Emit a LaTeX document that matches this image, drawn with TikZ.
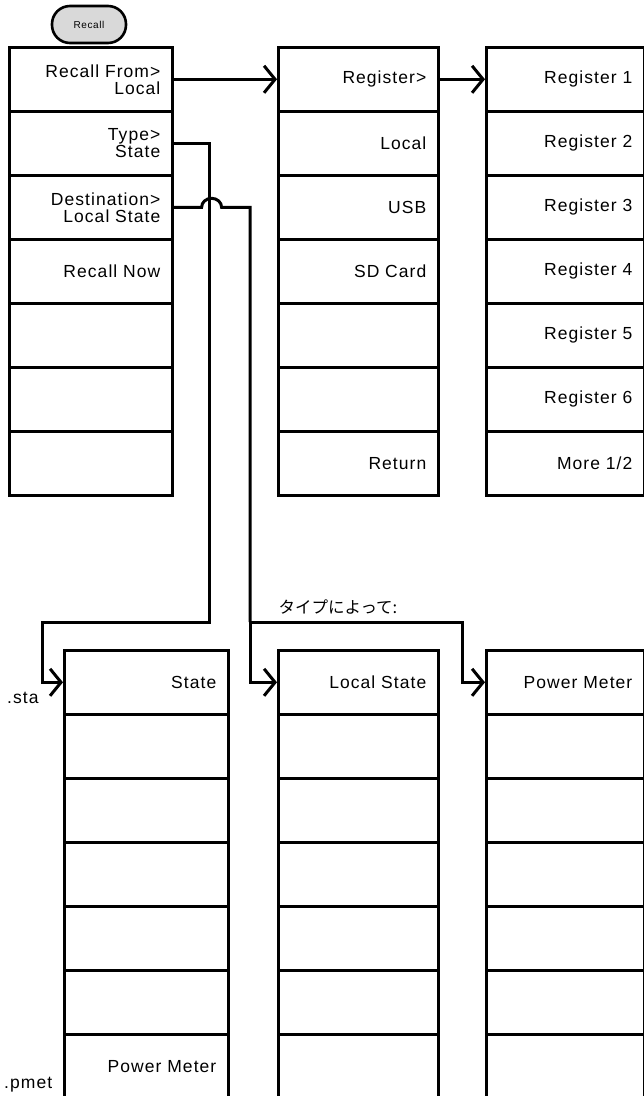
\documentclass[tikz,border=0pt]{standalone}
\usepackage{fontspec}
\setmainfont[LetterSpace=6]{Liberation Sans}
\newfontfamily\cjk{Noto Sans CJK JP}
\usetikzlibrary{arrows.meta}
\newcommand\menufont{\fontsize{17.5}{17}\selectfont}

\tikzset{
  keybox/.style={draw, line width=2.6pt, inner xsep=12pt, inner ysep=0pt,
    text width=#1, minimum height=64pt, align=right, font=\menufont},
  hardkey/.style={draw, line width=2.6pt, fill=gray!30, rounded corners=18pt,
    minimum width=74pt, minimum height=37pt, font=\fontsize{10}{11}\selectfont},
  conn/.style={line width=3pt},
  arr/.style={conn, -{Straight Barb[length=11pt,width=27pt]}}
}

\begin{document}
\begin{tikzpicture}[x=1pt,y=1pt]
  \useasboundingbox (0,0) rectangle (644,-1096);
  \node[hardkey] (recall) at (89,-24.5) {Recall};
  % top menus
  \foreach \t [count=\i] in {{Recall From>\\Local},{Type>\\State},{Destination>\\Local State},{Recall Now},{},{},{}}
    \node[keybox=139pt, anchor=north west] (lf\i) at (8,{-46-64*(\i-1)}) {\t};
  \foreach \t [count=\i] in {{Register>},{Local},{USB},{SD Card},{},{},{Return}}
    \node[keybox=136pt, anchor=north west] (md\i) at (277,{-46-64*(\i-1)}) {\t};
  \foreach \t [count=\i] in {{Register 1},{Register 2},{Register 3},{Register 4},{Register 5},{Register 6},{More 1/2}}
    \node[keybox=134pt, anchor=north west] (rt\i) at (485,{-46-64*(\i-1)}) {\t};
  % bottom menus
  \foreach \t [count=\i] in {{State},{},{},{},{},{},{Power Meter}}
    \node[keybox=140pt, anchor=north west] (bs\i) at (63,{-649-64*(\i-1)}) {\t};
  \foreach \t [count=\i] in {{Local State},{},{},{},{},{},{}}
    \node[keybox=136pt, anchor=north west] (bl\i) at (277,{-649-64*(\i-1)}) {\t};
  \foreach \t [count=\i] in {{Power Meter},{},{},{},{},{},{}}
    \node[keybox=134pt, anchor=north west] (bp\i) at (485,{-649-64*(\i-1)}) {\t};

  \draw[arr] (lf1.east) -- (md1.west);
  \draw[arr] (md1.east) -- (rt1.west);

  \coordinate (ta) at (209,-622);
  \coordinate (tb) at (42,-622);
  \draw[arr] (lf2.east) -| (ta) -- (tb) |- (bs1.west);

  \coordinate (da) at (250,-622);
  \coordinate (db) at (462,-622);
  \draw[conn] (lf3.east) -- ++(28,0) arc[start angle=180, end angle=0, x radius=10, y radius=9]
    -- (da |- lf3.east) -- (da);
  \draw[arr] (da) |- (bl1.west);
  \draw[arr] (da) -- (db) |- (bp1.west);

  \node[anchor=base west, font=\cjk\fontsize{16.5}{18}\selectfont] (bytype) at (275,-613) {タイプによって:};
  \node[anchor=base west, inner sep=0pt, font=\menufont] (sta) at (7,-703) {.sta};
  \node[anchor=base west, inner sep=0pt, font=\menufont] (pmet) at (4,-1088) {.pmet};
\end{tikzpicture}
\end{document}
